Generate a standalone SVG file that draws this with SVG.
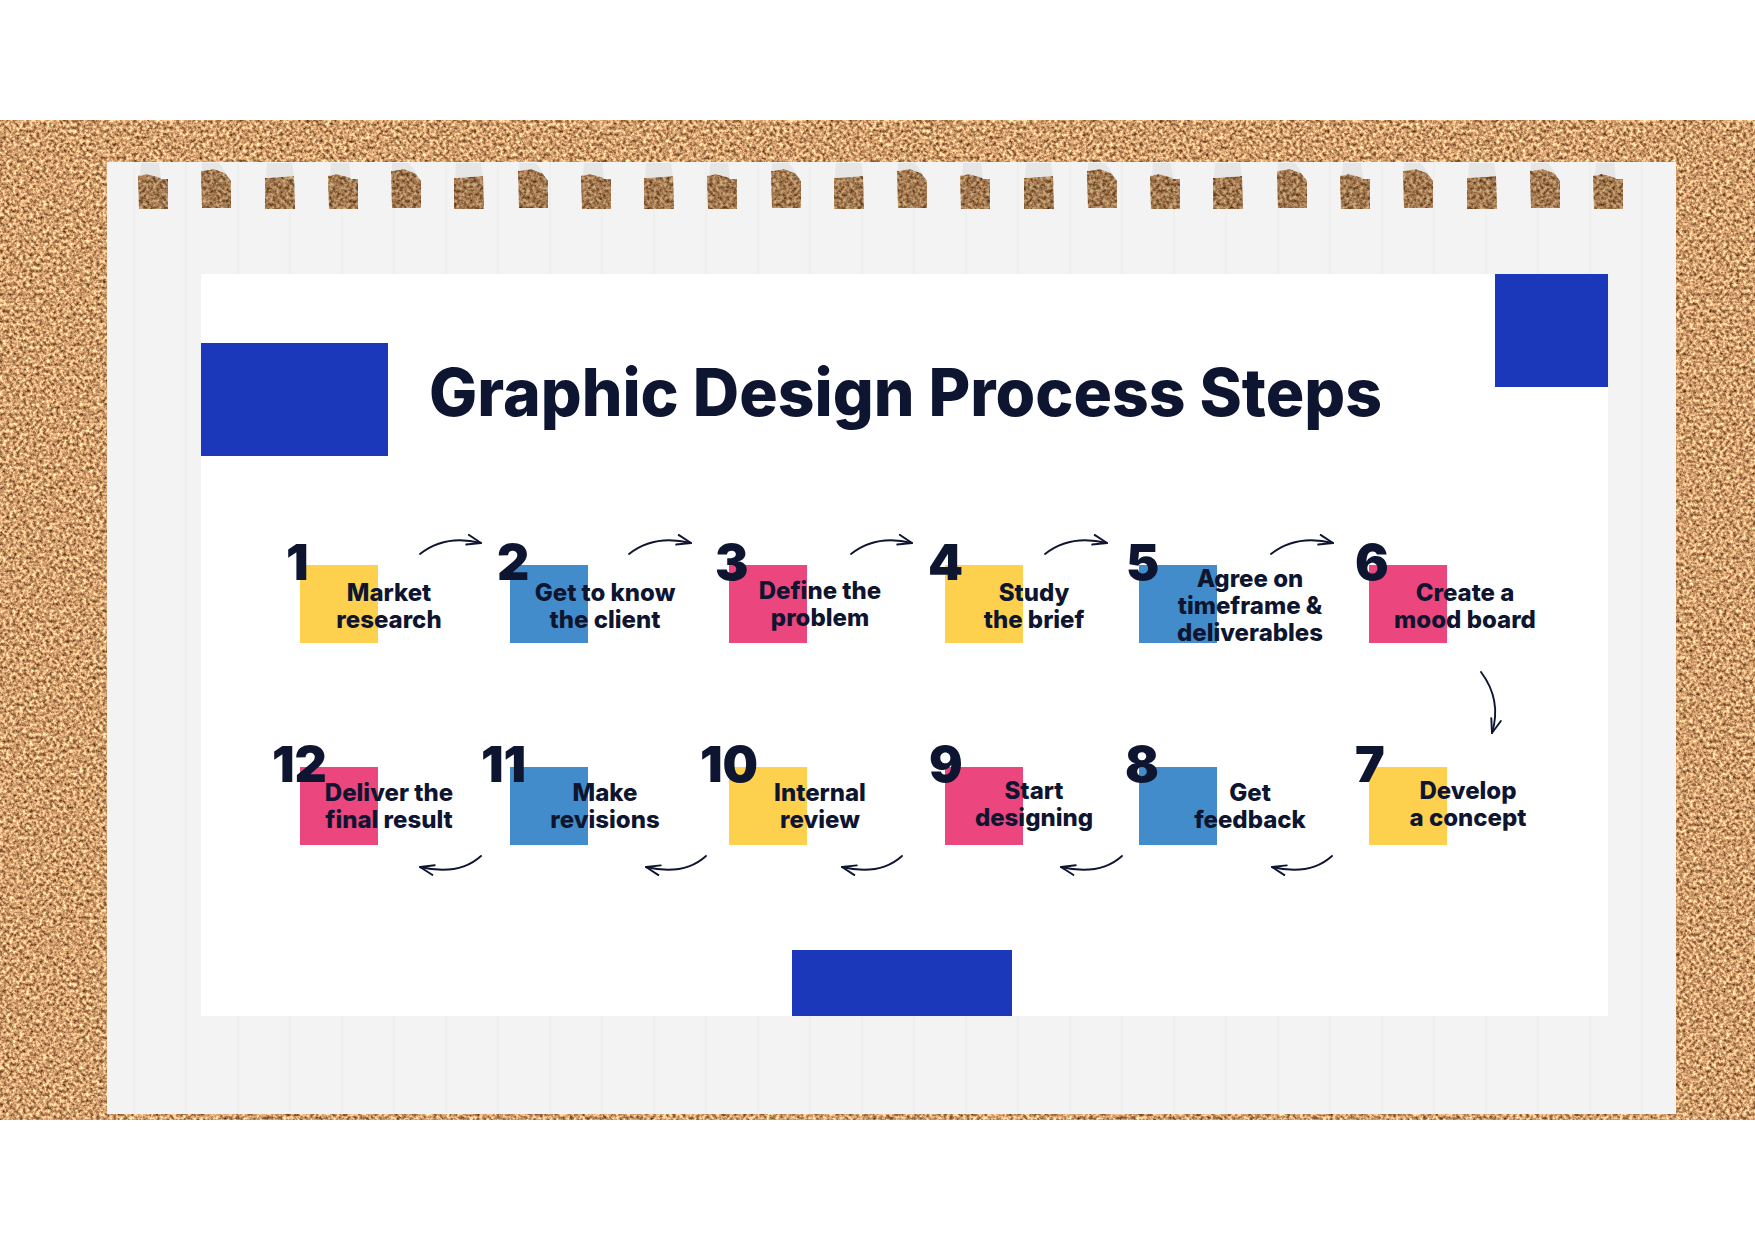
<svg xmlns="http://www.w3.org/2000/svg" xmlns:xlink="http://www.w3.org/1999/xlink" width="1755" height="1241" viewBox="0 0 1755 1241">
  <style>
    .title { font-family: Inter, Lato, "Liberation Sans", sans-serif; font-weight: 800; font-size: 66px; fill: #0e1530; }
    .num { font-family: Inter, Lato, "Liberation Sans", sans-serif; font-weight: 900; font-size: 50px; fill: #0e1530; }
    .lbl { font-family: Inter, Lato, "Liberation Sans", sans-serif; font-weight: 800; font-size: 24px; fill: #0e1530; text-anchor: middle; }
    .yellow { fill: #fdd04d; }
    .blue { fill: #438ccb; }
    .pink { fill: #ec467e; }
    .accent { fill: #1a38b9; }
    .conn { fill: none; stroke: #0e1530; stroke-width: 1.9; stroke-linecap: round; marker-end: url(#arrow); }
  </style>
  <defs>
    <filter id="cork" filterUnits="userSpaceOnUse" x="0" y="120" width="1755" height="1000" color-interpolation-filters="sRGB">
      <feTurbulence type="fractalNoise" baseFrequency="0.3" numOctaves="4" seed="7" result="n"/>
      <feColorMatrix in="n" type="matrix" values="1.3 0 0 0 0.17  1.2 0 0 0 0.02  1.0 0 0 0 -0.07  0 0 0 0 1"/>
    </filter>
    <marker id="arrow" markerUnits="userSpaceOnUse" markerWidth="20" markerHeight="16" refX="15" refY="6" orient="auto">
      <path d="M1,1 L15,6 L1,11" fill="none" stroke="#0e1530" stroke-width="1.9" stroke-linecap="round" stroke-linejoin="round"/>
    </marker>
    <path id="hA" d="M0,176 L8,174 L19,175 L23,179 L30,179 L30,209 L1,209 Z"/>
    <path id="hB" d="M0,171 L13,169 L24,173 L30,181 L30,208 L1,208 Z"/>
    <path id="hC" d="M0,178 L29,176 L30,209 L0,209 Z"/>
    <path id="tA" d="M3,163 L21,163 L23,178 L8,174 L2,176 Z"/>
    <path id="tB" d="M1,163 L18,163 L26,174 L13,169 L1,171 Z"/>
    <path id="tC" d="M2,163 L27,163 L29,176 L1,178 Z"/>
    <mask id="paperMask" maskUnits="userSpaceOnUse" x="0" y="0" width="1755" height="1241">
      <rect x="0" y="0" width="1755" height="1241" fill="#fff"/>
      <g id="holes" fill="#000">
        <use href="#hA" x="138"/><use href="#hB" x="201"/><use href="#hC" x="265"/><use href="#hA" x="328"/>
        <use href="#hB" x="391"/><use href="#hC" x="454"/><use href="#hB" x="518"/><use href="#hA" x="581"/>
        <use href="#hC" x="644"/><use href="#hA" x="707"/><use href="#hB" x="771"/><use href="#hC" x="834"/>
        <use href="#hB" x="897"/><use href="#hA" x="960"/><use href="#hC" x="1024"/><use href="#hB" x="1087"/>
        <use href="#hA" x="1150"/><use href="#hC" x="1213"/><use href="#hB" x="1277"/><use href="#hA" x="1340"/>
        <use href="#hB" x="1403"/><use href="#hC" x="1467"/><use href="#hB" x="1530"/><use href="#hA" x="1593"/>
      </g>
    </mask>
  </defs>

  <rect x="0" y="0" width="1755" height="1241" fill="#ffffff"/>

  <g id="background">
    <rect x="0" y="127" width="1755" height="987" fill="#c38e62" filter="url(#cork)"/>
    <g mask="url(#paperMask)">
      <rect x="107" y="162" width="1569" height="952" fill="#f3f3f3"/>
      <g stroke="#ededed" stroke-width="1.2">
        <line x1="134" y1="162" x2="134" y2="1114"/><line x1="186" y1="162" x2="186" y2="1114"/>
        <line x1="238" y1="162" x2="238" y2="1114"/><line x1="290" y1="162" x2="290" y2="1114"/>
        <line x1="342" y1="162" x2="342" y2="1114"/><line x1="394" y1="162" x2="394" y2="1114"/>
        <line x1="446" y1="162" x2="446" y2="1114"/><line x1="498" y1="162" x2="498" y2="1114"/>
        <line x1="550" y1="162" x2="550" y2="1114"/><line x1="602" y1="162" x2="602" y2="1114"/>
        <line x1="654" y1="162" x2="654" y2="1114"/><line x1="706" y1="162" x2="706" y2="1114"/>
        <line x1="758" y1="162" x2="758" y2="1114"/><line x1="810" y1="162" x2="810" y2="1114"/>
        <line x1="862" y1="162" x2="862" y2="1114"/><line x1="914" y1="162" x2="914" y2="1114"/>
        <line x1="966" y1="162" x2="966" y2="1114"/><line x1="1018" y1="162" x2="1018" y2="1114"/>
        <line x1="1070" y1="162" x2="1070" y2="1114"/><line x1="1122" y1="162" x2="1122" y2="1114"/>
        <line x1="1174" y1="162" x2="1174" y2="1114"/><line x1="1226" y1="162" x2="1226" y2="1114"/>
        <line x1="1278" y1="162" x2="1278" y2="1114"/><line x1="1330" y1="162" x2="1330" y2="1114"/>
        <line x1="1382" y1="162" x2="1382" y2="1114"/><line x1="1434" y1="162" x2="1434" y2="1114"/>
        <line x1="1486" y1="162" x2="1486" y2="1114"/><line x1="1538" y1="162" x2="1538" y2="1114"/>
        <line x1="1590" y1="162" x2="1590" y2="1114"/><line x1="1642" y1="162" x2="1642" y2="1114"/>
      </g>
    </g>
    <g fill="#2a1808" fill-opacity="0.28">
      <use href="#hA" x="138"/><use href="#hB" x="201"/><use href="#hC" x="265"/><use href="#hA" x="328"/>
      <use href="#hB" x="391"/><use href="#hC" x="454"/><use href="#hB" x="518"/><use href="#hA" x="581"/>
      <use href="#hC" x="644"/><use href="#hA" x="707"/><use href="#hB" x="771"/><use href="#hC" x="834"/>
      <use href="#hB" x="897"/><use href="#hA" x="960"/><use href="#hC" x="1024"/><use href="#hB" x="1087"/>
      <use href="#hA" x="1150"/><use href="#hC" x="1213"/><use href="#hB" x="1277"/><use href="#hA" x="1340"/>
      <use href="#hB" x="1403"/><use href="#hC" x="1467"/><use href="#hB" x="1530"/><use href="#hA" x="1593"/>
    </g>
    <g fill="#e6e6e6">
      <use href="#tA" x="138"/><use href="#tB" x="201"/><use href="#tC" x="265"/><use href="#tA" x="328"/>
      <use href="#tB" x="391"/><use href="#tC" x="454"/><use href="#tB" x="518"/><use href="#tA" x="581"/>
      <use href="#tC" x="644"/><use href="#tA" x="707"/><use href="#tB" x="771"/><use href="#tC" x="834"/>
      <use href="#tB" x="897"/><use href="#tA" x="960"/><use href="#tC" x="1024"/><use href="#tB" x="1087"/>
      <use href="#tA" x="1150"/><use href="#tC" x="1213"/><use href="#tB" x="1277"/><use href="#tA" x="1340"/>
      <use href="#tB" x="1403"/><use href="#tC" x="1467"/><use href="#tB" x="1530"/><use href="#tA" x="1593"/>
    </g>
    <rect x="201" y="274" width="1407" height="742" fill="#ffffff"/>
    <rect class="accent" x="201" y="343" width="187" height="113"/>
    <rect class="accent" x="1495" y="274" width="113" height="113"/>
    <rect class="accent" x="792" y="950" width="220" height="66"/>
  </g>

  <g id="title">
    <text class="title" x="429" y="416" textLength="953" lengthAdjust="spacingAndGlyphs">Graphic Design Process Steps</text>
  </g>

  <g id="node-1">
    <rect class="yellow" x="300" y="565" width="78" height="78"/>
    <text class="num" x="286" y="580">1</text>
    <text class="lbl" x="389" y="601">Market</text>
    <text class="lbl" x="389" y="628">research</text>
  </g>
  <g id="node-2">
    <rect class="blue" x="510" y="565" width="78" height="78"/>
    <text class="num" x="497" y="580">2</text>
    <text class="lbl" x="605" y="601">Get to know</text>
    <text class="lbl" x="605" y="628">the client</text>
  </g>
  <g id="node-3">
    <rect class="pink" x="729" y="565" width="78" height="78"/>
    <text class="num" x="715" y="580">3</text>
    <text class="lbl" x="820" y="599">Define the</text>
    <text class="lbl" x="820" y="626">problem</text>
  </g>
  <g id="node-4">
    <rect class="yellow" x="945" y="565" width="78" height="78"/>
    <text class="num" x="928" y="580">4</text>
    <text class="lbl" x="1034" y="601">Study</text>
    <text class="lbl" x="1034" y="628">the brief</text>
  </g>
  <g id="node-5">
    <rect class="blue" x="1139" y="565" width="78" height="78"/>
    <text class="num" x="1126" y="580">5</text>
    <text class="lbl" x="1250" y="587">Agree on</text>
    <text class="lbl" x="1250" y="614">timeframe &amp;</text>
    <text class="lbl" x="1250" y="641">deliverables</text>
  </g>
  <g id="node-6">
    <rect class="pink" x="1369" y="565" width="78" height="78"/>
    <text class="num" x="1355" y="580">6</text>
    <text class="lbl" x="1465" y="601">Create a</text>
    <text class="lbl" x="1465" y="628">mood board</text>
  </g>
  <g id="node-7">
    <rect class="yellow" x="1369" y="767" width="78" height="78"/>
    <text class="num" x="1355" y="782">7</text>
    <text class="lbl" x="1468" y="799">Develop</text>
    <text class="lbl" x="1468" y="826">a concept</text>
  </g>
  <g id="node-8">
    <rect class="blue" x="1139" y="767" width="78" height="78"/>
    <text class="num" x="1125" y="782">8</text>
    <text class="lbl" x="1250" y="801">Get</text>
    <text class="lbl" x="1250" y="828">feedback</text>
  </g>
  <g id="node-9">
    <rect class="pink" x="945" y="767" width="78" height="78"/>
    <text class="num" x="929" y="782">9</text>
    <text class="lbl" x="1034" y="799">Start</text>
    <text class="lbl" x="1034" y="826">designing</text>
  </g>
  <g id="node-10">
    <rect class="yellow" x="729" y="767" width="78" height="78"/>
    <text class="num" x="700" y="782">10</text>
    <text class="lbl" x="820" y="801">Internal</text>
    <text class="lbl" x="820" y="828">review</text>
  </g>
  <g id="node-11">
    <rect class="blue" x="510" y="767" width="78" height="78"/>
    <text class="num" x="481" y="782">11</text>
    <text class="lbl" x="605" y="801">Make</text>
    <text class="lbl" x="605" y="828">revisions</text>
  </g>
  <g id="node-12">
    <rect class="pink" x="300" y="767" width="78" height="78"/>
    <text class="num" x="272" y="782">12</text>
    <text class="lbl" x="389" y="801">Deliver the</text>
    <text class="lbl" x="389" y="828">final result</text>
  </g>

  <g id="connectors">
    <path class="conn" d="M420,554 Q445,534 481,543"/>
    <path class="conn" d="M629,554 Q654,534 691,543"/>
    <path class="conn" d="M851,554 Q876,534 912,543"/>
    <path class="conn" d="M1045,554 Q1070,534 1107,543"/>
    <path class="conn" d="M1271,554 Q1296,534 1333,543"/>
    <path class="conn" d="M1481,672 Q1502,700 1492,733"/>
    <path class="conn" d="M1332,856 Q1310,876 1272,867"/>
    <path class="conn" d="M1122,856 Q1100,876 1061,867"/>
    <path class="conn" d="M902,856 Q880,876 842,867"/>
    <path class="conn" d="M706,856 Q684,876 646,867"/>
    <path class="conn" d="M481,856 Q459,876 420,867"/>
  </g>
</svg>
